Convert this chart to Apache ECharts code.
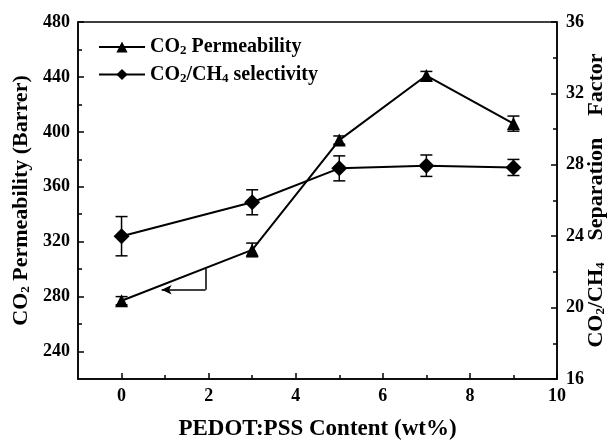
<!DOCTYPE html>
<html>
<head>
<meta charset="utf-8">
<script src="https://cdn.jsdelivr.net/npm/echarts@6/dist/echarts.min.js"></script>
<style>
  html, body { margin: 0; padding: 0; background: #fff; }
  #main { width: 613px; height: 442px; }
</style>
</head>
<body>
<div id="main"></div>
<script>
// PEDOT:PSS content (wt%)
const xValues = [0, 3, 5, 7, 9]
// CO2 permeability (Barrer) and its error
const permeability = [277, 314, 394, 441, 406]
const permErr = [3, 5, 3, 3, 5.5]
// CO2/CH4 selectivity and its error
const selectivity = [24.0, 25.9, 27.8, 27.95, 27.85]
const selErr = [1.1, 0.7, 0.7, 0.6, 0.45]

// tick positions
const xTicks = [0, 2, 4, 6, 8, 10]
const xMinorTicks = [1, 3, 5, 7, 9]
const leftTicks = [240, 280, 320, 360, 400, 440, 480]
const leftMinorTicks = [260, 300, 340, 380, 420, 460]
const rightTicks = [16, 20, 24, 28, 32, 36]
const rightMinorTicks = [18, 22, 26, 30, 34]

// annotation arrow pointing to the left axis
const arrowPath = [[1.93, 300.5], [1.93, 285], [0.92, 285]]

const FONT = '"Liberation Serif", "Times New Roman", serif'
const sub = { fontSize: 13, fontWeight: 'bold', fontFamily: FONT, verticalAlign: 'bottom', padding: [8, 0, 0, 0] }

var myChart = echarts.init(document.getElementById('main'))

function errorBars () {
  return function (params, api) {
    const x = api.value(0)
    const y = api.value(1)
    const e = api.value(2)
    const top = api.coord([x, y + e])
    const bot = api.coord([x, y - e])
    const w = 6
    const style = { stroke: '#000', lineWidth: 1.5 }
    return {
      type: 'group',
      children: [
        { type: 'line', shape: { x1: top[0], y1: top[1], x2: bot[0], y2: bot[1] }, style: style },
        { type: 'line', shape: { x1: top[0] - w, y1: top[1], x2: top[0] + w, y2: top[1] }, style: style },
        { type: 'line', shape: { x1: bot[0] - w, y1: bot[1], x2: bot[0] + w, y2: bot[1] }, style: style }
      ]
    }
  }
}

const tickLabel = { color: '#000', fontFamily: FONT, fontWeight: 'bold', fontSize: 18 }
const axisLine = { show: true, onZero: false, lineStyle: { color: '#000', width: 1.5 } }
const noLine = { show: false, onZero: false }
const tickStyle = { color: '#000', width: 1.5 }

const option = {
  animation: false,
  grid: { left: 78, right: 56, top: 22, bottom: 63, show: true, borderColor: '#000', borderWidth: 1.5, outerBoundsMode: 'none', containLabel: false },
  legend: {
    orient: 'vertical',
    left: 93,
    top: 32,
    itemWidth: 46,
    itemHeight: 14,
    itemGap: 7,
    data: ['perm', 'sel'],
    formatter: function (name) {
      return name === 'perm' ? 'CO{s|2} Permeability' : 'CO{s|2}/CH{s|4} selectivity'
    },
    textStyle: {
      color: '#000', fontFamily: FONT, fontWeight: 'bold', fontSize: 20,
      rich: { s: sub }
    }
  },
  xAxis: [
    {
      type: 'value', min: -1, max: 10,
      name: 'PEDOT:PSS Content (wt%)',
      nameLocation: 'middle', nameGap: 39,
      nameTextStyle: { color: '#000', fontFamily: FONT, fontWeight: 'bold', fontSize: 23 },
      axisLine: axisLine,
      splitLine: { show: false },
      axisTick: { show: true, inside: true, length: 6, customValues: xTicks, lineStyle: tickStyle },
      axisLabel: Object.assign({ customValues: xTicks, margin: 8 }, tickLabel)
    },
    {
      type: 'value', min: -1, max: 10, position: 'bottom',
      axisLine: noLine,
      splitLine: { show: false },
      axisTick: { show: true, inside: true, length: 4, customValues: xMinorTicks, lineStyle: tickStyle },
      axisLabel: { show: false }
    }
  ],
  yAxis: [
    {
      type: 'value', min: 220, max: 480, position: 'left',
      name: 'CO{s|2} Permeability (Barrer)',
      nameLocation: 'middle', nameGap: 46, nameRotate: 90,
      nameTextStyle: { color: '#000', fontFamily: FONT, fontWeight: 'bold', fontSize: 22, rich: { s: sub } },
      axisLine: axisLine,
      splitLine: { show: false },
      axisTick: { show: true, inside: true, length: 6, customValues: leftTicks, lineStyle: tickStyle },
      axisLabel: Object.assign({ customValues: leftTicks, margin: 8 }, tickLabel)
    },
    {
      type: 'value', min: 16, max: 36, position: 'right',
      name: 'CO{s|2}/CH{s|4}    Separation    Factor',
      nameLocation: 'middle', nameGap: 28, nameRotate: 90, nameMoveOverlap: false,
      nameTextStyle: { color: '#000', fontFamily: FONT, fontWeight: 'bold', fontSize: 22, rich: { s: sub } },
      axisLine: axisLine,
      splitLine: { show: false },
      axisTick: { show: true, inside: true, length: 6, customValues: rightTicks, lineStyle: tickStyle },
      axisLabel: Object.assign({ customValues: rightTicks, margin: 9 }, tickLabel)
    },
    {
      type: 'value', min: 220, max: 480, position: 'left',
      axisLine: noLine, splitLine: { show: false }, axisLabel: { show: false },
      axisTick: { show: true, inside: true, length: 4, customValues: leftMinorTicks, lineStyle: tickStyle }
    },
    {
      type: 'value', min: 16, max: 36, position: 'right',
      axisLine: noLine, splitLine: { show: false }, axisLabel: { show: false },
      axisTick: { show: true, inside: true, length: 4, customValues: rightMinorTicks, lineStyle: tickStyle }
    }
  ],
  series: [
    {
      type: 'custom', yAxisIndex: 0, silent: true,
      renderItem: errorBars(),
      data: xValues.map((x, i) => [x, permeability[i], permErr[i]])
    },
    {
      type: 'custom', yAxisIndex: 1, silent: true,
      renderItem: errorBars(),
      data: xValues.map((x, i) => [x, selectivity[i], selErr[i]])
    },
    {
      name: 'perm', type: 'line', yAxisIndex: 0,
      symbol: 'triangle', symbolSize: 13,
      itemStyle: { color: '#000' },
      lineStyle: { color: '#000', width: 2 },
      data: xValues.map((x, i) => [x, permeability[i]]),
      markLine: {
        silent: true,
        symbol: ['none', 'arrow'],
        symbolSize: [7, 10],
        label: { show: false },
        lineStyle: { color: '#000', width: 1.5, type: 'solid' },
        data: [
          [{ coord: arrowPath[0], symbol: 'none' }, { coord: arrowPath[1], symbol: 'none' }],
          [{ coord: arrowPath[1], symbol: 'none' }, { coord: arrowPath[2] }]
        ]
      }
    },
    {
      name: 'sel', type: 'line', yAxisIndex: 1,
      symbol: 'diamond', symbolSize: 16,
      itemStyle: { color: '#000' },
      lineStyle: { color: '#000', width: 2 },
      data: xValues.map((x, i) => [x, selectivity[i]])
    }
  ]
}

myChart.setOption(option)
</script>
</body>
</html>
